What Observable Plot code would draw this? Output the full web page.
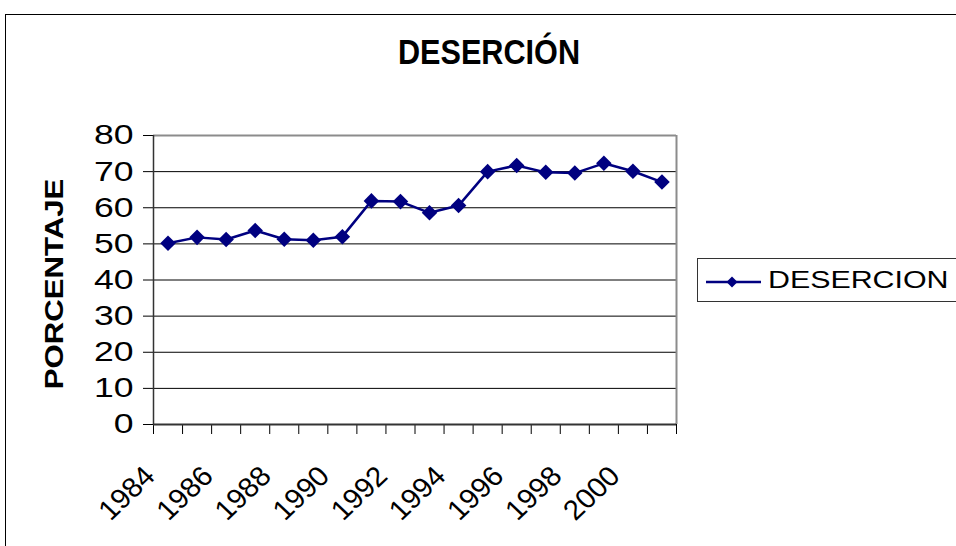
<!DOCTYPE html>
<html><head><meta charset="utf-8">
<script src="https://cdn.jsdelivr.net/npm/d3@7"></script>
<script src="https://cdn.jsdelivr.net/npm/@observablehq/plot@0.6"></script>
<style>
html,body{margin:0;padding:0;background:#fff;width:956px;height:546px;overflow:hidden;font-family:"Liberation Sans",Arial,sans-serif;}
#frame{position:absolute;left:5px;top:14px;width:1200px;height:800px;border:1px solid #000;box-sizing:border-box;}
#chart{position:absolute;left:0;top:0;}
#title{position:absolute;left:0;width:978px;top:34px;text-align:center;font-weight:bold;font-size:35px;line-height:35px;white-space:nowrap;transform:scaleX(0.875);transform-origin:489px 0;}
#ytitle{position:absolute;left:54px;top:283.5px;font-weight:bold;font-size:25px;line-height:25px;white-space:nowrap;transform:translate(-50%,-50%) rotate(-90deg) scaleX(1.245);}
#legend{position:absolute;left:697px;top:258px;width:330px;height:44px;border:1px solid #333;box-sizing:border-box;background:#fff;}
#legend svg{position:absolute;left:7px;top:0;}
#legend span{position:absolute;left:70px;top:10px;font-size:23px;line-height:23px;white-space:nowrap;transform:scaleX(1.32);transform-origin:0 0;}
</style>
</head>
<body>
<div id="frame"></div>
<div id="chart"></div>
<div id="title">DESERCIÓN</div>
<div id="ytitle">PORCENTAJE</div>
<div id="legend">
  <svg width="58" height="42"><line x1="1" x2="56" y1="23" y2="23" stroke="#000080" stroke-width="2.5"/><path d="M27,17.5 L32.5,23 L27,28.5 L21.5,23 Z" fill="#000080"/></svg>
  <span>DESERCION</span>
</div>
<script>
const years = [1984,1985,1986,1987,1988,1989,1990,1991,1992,1993,1994,1995,1996,1997,1998,1999,2000,2001];
const values = [50.2,51.8,51.2,53.7,51.3,51.0,52.0,61.9,61.7,58.6,60.6,70.0,71.7,69.8,69.6,72.3,70.1,67.1];
const yTicks = [0,10,20,30,40,50,60,70,80];
const xLabels = [1984,1986,1988,1990,1992,1994,1996,1998,2000];

const data = years.map((y, i) => ({year: y, value: values[i]}));
const xBounds = [years[0] - 0.5, ...years.map(y => y + 0.5)];
const xMin = xBounds[0], xMax = xBounds[xBounds.length - 1];

const chart = Plot.plot({
  width: 956, height: 546,
  marginLeft: 153, marginRight: 280, marginTop: 135, marginBottom: 122,
  style: {fontFamily: '"Liberation Sans", Arial, sans-serif', color: "#000", background: "transparent", overflow: "visible"},
  x: {type: "linear", domain: [xMin, xMax]},
  y: {domain: [0, 80]},
  marks: [
    Plot.ruleY(yTicks.slice(1, -1), {stroke: "#000", strokeWidth: 1}),
    Plot.ruleY([yTicks[yTicks.length - 1]], {stroke: "#8c8c8c", strokeWidth: 2}),
    Plot.ruleX([xMax], {stroke: "#8c8c8c", strokeWidth: 2}),
    Plot.axisY({ticks: yTicks, tickSize: 10, tickPadding: 10, fontSize: 28, label: null, tickFormat: d => String(d)}),
    Plot.axisX({ticks: xBounds, tickSize: 10, tickFormat: () => "", label: null}),
    Plot.ruleX([xMin], {stroke: "#333", strokeWidth: 1.5}),
    Plot.ruleY([0], {stroke: "#333", strokeWidth: 2}),
    Plot.line(data, {x: "year", y: "value", stroke: "#000080", strokeWidth: 2.5}),
    Plot.dot(data, {x: "year", y: "value", symbol: "diamond2", r: 7, fill: "#000080"}),
    Plot.text(xLabels, {x: d => d, y: () => 0, text: d => String(d), rotate: -45, textAnchor: "end", fontSize: 28, dx: -18, dy: 47})
  ]
});
document.getElementById("chart").appendChild(chart);

function stretch(nodes, sx, sy) {
  nodes.forEach(t => {
    const tr = t.getAttribute("transform");
    if (tr && /^\s*translate\([^)]*\)/.test(tr)) {
      t.setAttribute("transform", tr.replace(/^\s*(translate\([^)]*\))/, `$1 scale(${sx},${sy})`));
    } else {
      const x = parseFloat(t.getAttribute("x")) || 0, y = parseFloat(t.getAttribute("y")) || 0;
      t.setAttribute("transform", `translate(${x},${y}) scale(${sx},${sy}) translate(${-x},${-y})`);
    }
  });
}
stretch(chart.querySelectorAll('g[aria-label="y-axis tick label"] text'), 1.27, 1);
stretch(chart.querySelectorAll('g[aria-label="text"] text'), 1.05, 1);
</script>
</body></html>
